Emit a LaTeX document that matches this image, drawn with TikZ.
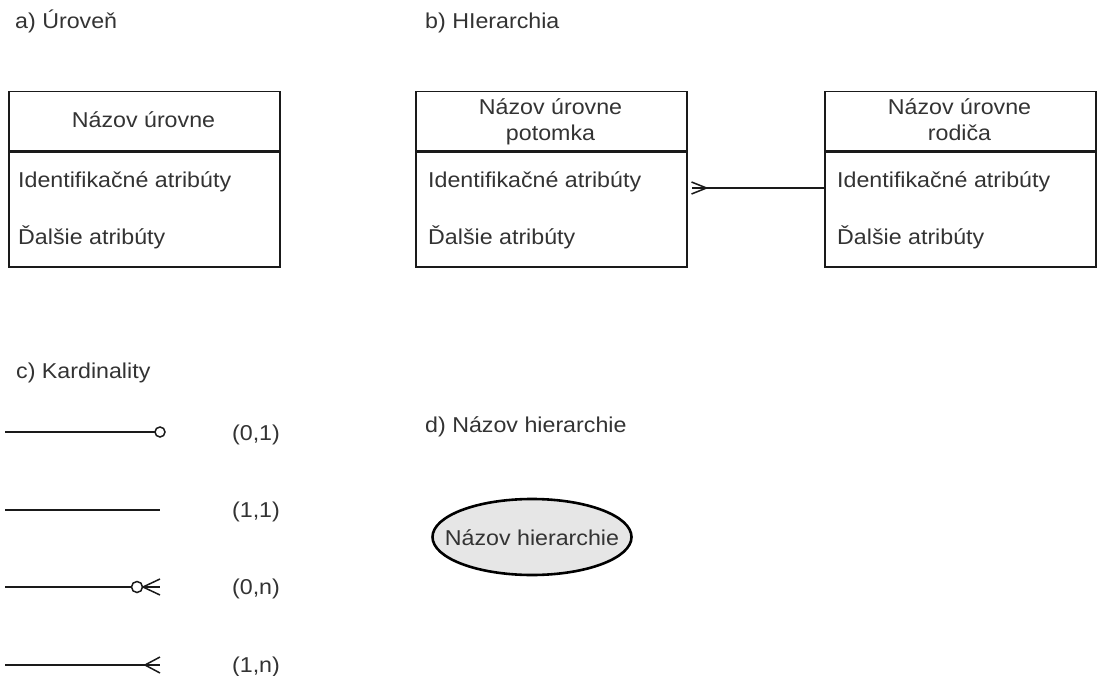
\documentclass[tikz,border=0pt]{standalone}
\usepackage{fontspec}
\setmainfont{Liberation Sans}[FakeStretch=1.08]
\usetikzlibrary{shapes.geometric}
\definecolor{txt}{HTML}{333333}
\definecolor{ink}{HTML}{1A1A1A}
\definecolor{pill}{HTML}{E6E6E6}
\begin{document}
\begin{tikzpicture}[x=1pt,y=-1pt,
  lbl/.style={font=\fontsize{21.5}{25}\selectfont, text=txt, inner sep=0pt},
  hdr/.style={draw=ink, line width=1.5pt, minimum width=271pt, minimum height=59pt,
              anchor=north west, inner sep=0pt},
  bodybox/.style={draw=ink, line width=1.5pt, minimum width=271pt, minimum height=115pt,
                  anchor=north west, inner sep=0pt},
  conn/.style={draw=ink, line width=1.5pt},
  pillbox/.style={ellipse, draw=black, line width=2.6pt, fill=pill,
                  minimum width=199pt, minimum height=76pt, inner sep=0pt}]
\useasboundingbox (0,0) rectangle (1100,676);

% section titles
\node[lbl, anchor=base west] (ta) at (15,29) {a) Úroveň};
\node[lbl, anchor=base west] (tb) at (425,29) {b) HIerarchia};
\node[lbl, anchor=base west] (tc) at (16,378) {c) Kardinality};
\node[lbl, anchor=base west] (td) at (425,432) {d) Názov hierarchie};

% a) level entity
\node[hdr] (aH) at (8,91) {};
\node[bodybox] (aB) at (aH.south west) {};
\node[lbl, anchor=base] (aT) at (143.5,128) {Názov úrovne};
\node[lbl, anchor=base west] (aId) at (18,188) {Identifikačné atribúty};
\node[lbl, anchor=base west] (aOt) at (18,245) {Ďalšie atribúty};

% b) child level
\node[hdr] (b1H) at (415,91) {};
\node[bodybox] (b1B) at (b1H.south west) {};
\node[lbl, anchor=base] (b1T1) at (550.5,115) {Názov úrovne};
\node[lbl, anchor=base] (b1T2) at (550.5,141) {potomka};
\node[lbl, anchor=base west] (b1Id) at (428,188) {Identifikačné atribúty};
\node[lbl, anchor=base west] (b1Ot) at (428,245) {Ďalšie atribúty};

% b) parent level
\node[hdr] (b2H) at (824,91) {};
\node[bodybox] (b2B) at (b2H.south west) {};
\node[lbl, anchor=base] (b2T1) at (959.5,115) {Názov úrovne};
\node[lbl, anchor=base] (b2T2) at (959.5,141) {rodiča};
\node[lbl, anchor=base west] (b2Id) at (837,188) {Identifikačné atribúty};
\node[lbl, anchor=base west] (b2Ot) at (837,245) {Ďalšie atribúty};

% child -- parent relation, crow's foot on the child side
\coordinate (rm) at (b1B.east |- b1Id.base);
\draw[conn] (b2B.west |- b2Id.base) -- ([xshift=4pt]rm);
\draw[conn] ([xshift=4pt,yshift=6pt]rm) -- ([xshift=19pt]rm) -- ([xshift=4pt,yshift=-6pt]rm);

% c) cardinality symbols
\coordinate (k1s) at (5,432);
\coordinate (k1e) at (155,432);
\coordinate (k1o) at (160,432);
\draw[conn] (k1s) -- (k1e);
\draw[conn] (k1o) circle (5pt);
\node[lbl, anchor=base] (k1l) at (256,440) {(0,1)};

\coordinate (k2s) at (5,510);
\coordinate (k2e) at (160,510);
\draw[conn] (k2s) -- (k2e);
\node[lbl, anchor=base] (k2l) at (256,517) {(1,1)};

\coordinate (k3s) at (5,587);
\coordinate (k3e) at (131,587);
\coordinate (k3o) at (137,587);
\coordinate (k3f) at (143,587);
\coordinate (k3t) at (160,587);
\draw[conn] (k3s) -- (k3e);
\draw[conn] (k3o) circle (5.5pt);
\draw[conn] (k3f) -- (k3t);
\draw[conn] ([yshift=8pt]k3t) -- (k3f) -- ([yshift=-8pt]k3t);
\node[lbl, anchor=base] (k3l) at (256,594) {(0,n)};

\coordinate (k4s) at (5,665);
\coordinate (k4f) at (145,665);
\coordinate (k4t) at (160,665);
\draw[conn] (k4s) -- (k4t);
\draw[conn] ([yshift=8pt]k4t) -- (k4f) -- ([yshift=-8pt]k4t);
\node[lbl, anchor=base] (k4l) at (256,672) {(1,n)};

% d) hierarchy name
\node[pillbox] (hn) at (532,537) {};
\node[lbl, anchor=base] (hnT) at (hn.center |- 0,545) {Názov hierarchie};
\end{tikzpicture}
\end{document}
